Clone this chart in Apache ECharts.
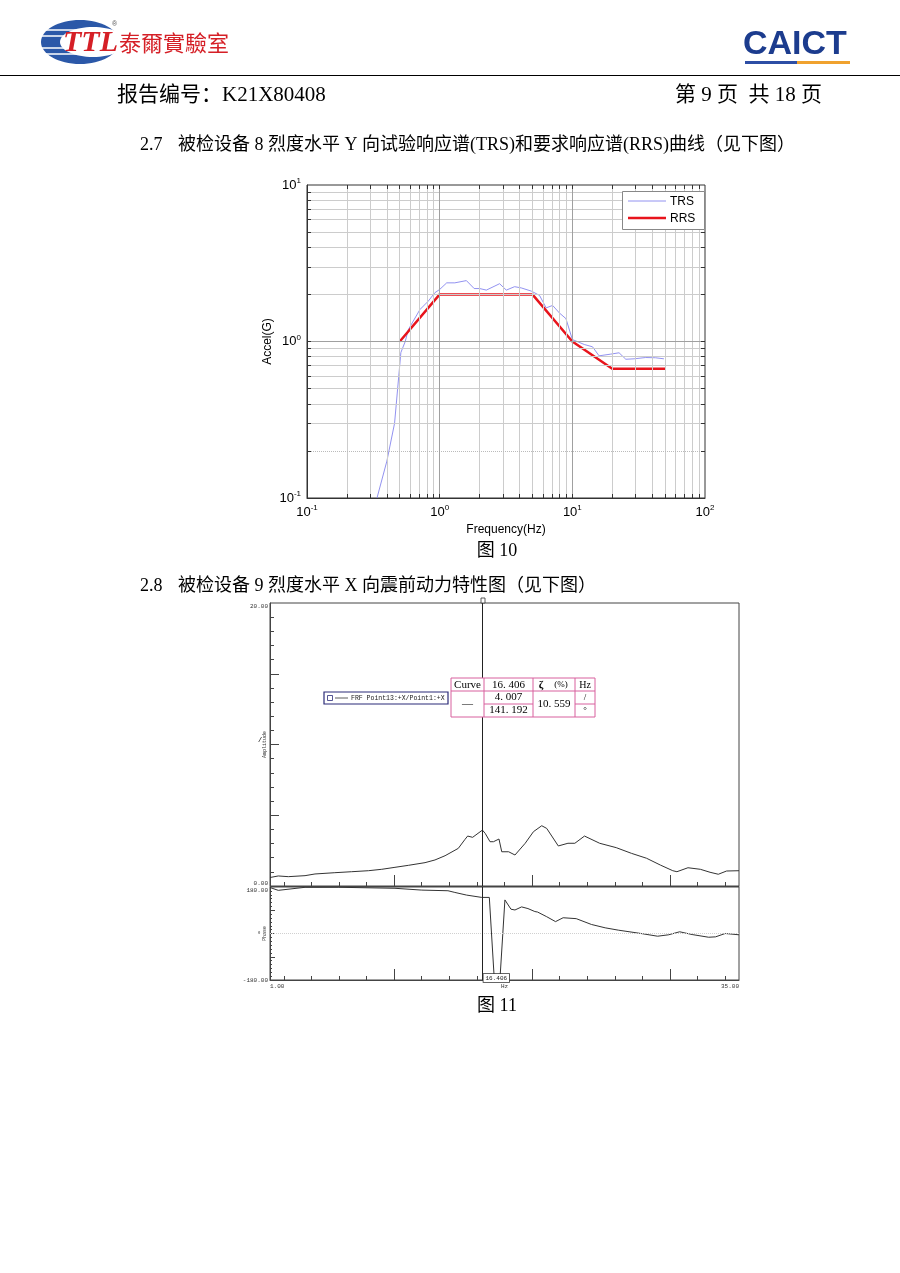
<!DOCTYPE html>
<html><head><meta charset="utf-8">
<script src="https://cdn.jsdelivr.net/npm/echarts@6/dist/echarts.min.js"></script>
<style>html,body{margin:0;padding:0;background:#fff}#c{width:900px;height:1273px}</style>
</head><body><div id="c"></div>
<script>
// ---------- Figure 10 data (TRS / RRS) ----------
const trsFreq  = [0.337, 0.40, 0.457, 0.51, 0.55, 0.58, 0.71, 0.82, 0.92, 1.0, 1.13, 1.30, 1.59, 1.82, 2.0, 2.25, 2.83, 3.18, 3.67, 4.12, 4.9, 5.66, 6.35, 7.1, 8.0, 8.95, 10.0, 10.3, 12.3, 14.2, 15.9, 19.4, 22.5, 25.3, 29.2, 35.7, 42.4, 49];
const trsAccel = [0.10, 0.172, 0.30, 0.85, 1.0, 1.19, 1.6, 1.81, 2.05, 2.15, 2.37, 2.37, 2.45, 2.18, 2.18, 2.13, 2.34, 2.13, 2.24, 2.2, 2.1, 1.97, 1.64, 1.7, 1.52, 1.40, 1.03, 1.03, 0.957, 0.925, 0.81, 0.83, 0.847, 0.77, 0.775, 0.79, 0.787, 0.775];
const rrsFreq  = [0.5, 1, 5, 10, 20, 50];
const rrsAccel = [1.0, 2.0, 2.0, 1.0, 0.67, 0.67];
const legendNames = ['TRS', 'RRS'];

// ---------- Figure 11 data (FRF amplitude / phase) ----------
const ampFreq = [1.0, 1.6, 2.33, 3.54, 4.26, 5.7, 6.92, 8.13, 9.1, 10.06, 11.03, 12.24, 12.96, 13.69, 14.65, 15.14, 15.33, 15.69, 16.4, 16.6, 16.95, 17.2, 17.6, 17.8, 18.3, 18.76, 19.5, 20.1, 20.7, 21.06, 21.9, 22.6, 23.1, 23.8, 24.9, 26.1, 27.2, 28.3, 29.3, 30.2, 30.5, 31.3, 32.2, 32.9, 33.5, 34.1, 35.0];
const ampVal  = [0.60, 0.71, 0.66, 0.73, 0.85, 0.94, 1.01, 1.08, 1.18, 1.32, 1.46, 1.65, 1.84, 2.14, 2.66, 3.3, 3.53, 3.44, 3.95, 3.72, 3.13, 3.13, 3.32, 2.42, 2.42, 2.19, 3.02, 3.84, 4.26, 4.07, 2.83, 3.02, 3.02, 3.53, 3.02, 2.71, 2.31, 1.96, 1.48, 1.08, 1.01, 1.29, 1.18, 0.97, 0.83, 1.06, 1.08];
const phFreq  = [1.0, 1.6, 3.54, 5.95, 10.06, 12.0, 13.9, 14.4, 15.25, 16.35, 16.9, 17.26, 17.67, 18.03, 18.47, 18.76, 19.24, 19.7, 20.2, 20.4, 21.06, 21.7, 22.25, 23.2, 24.3, 25.3, 26.25, 27.9, 29.1, 29.9, 30.7, 31.6, 32.8, 33.3, 34.0, 35.0];
const phVal   = [178, 167, 178.8, 179, 175, 168, 165.5, 159, 148.7, 139.7, 139.7, -177, -177, 130, 94, 91, 103, 96.5, 85, 83, 65, 46, 61, 57.5, 35, 22, 13, 0, -10.5, -5, 6.7, -4, -14.5, -13, 0, -5];
const cursorFreq = 16.406;
const cursorAmp = '4.007';
const cursorPhase = '141.192';
const cursorDamp = '10.559';
const frfLegend = 'FRF Point13:+X/Point1:+X';

// tick label / tick value lists
const frfXRange = [1, 35];
const frfXMinorTicks = [2,4,6,8,10,12,14,16,18,20,22,24,26,28,30,32,34];
const frfXMajorTicks = [10, 20, 30];
const ampRange = [0, 20];
const ampMinorTicks = [1,2,3,4,5,6,7,8,9,10,11,12,13,14,15,16,17,18,19];
const ampMajorTicks = [5, 10, 15];
const phRange = [-180, 180];
const phMinorTicks = [-165,-150,-135,-120,-105,-90,-75,-60,-45,-30,-15,0,15,30,45,60,75,90,105,120,135,150,165];
const phMajorTicks = [-90, 0, 90];

const SERIF = "'Liberation Serif','Noto Sans CJK SC',serif";
const SANS = "'Liberation Sans',Arial,sans-serif";
const MONO = "'Liberation Mono','DejaVu Sans Mono',monospace";

// layout
const g0 = {left: 307, top: 185, width: 398, height: 313};
const g1 = {left: 270, top: 603, width: 469, height: 283};
const g2 = {left: 270, top: 887, width: 469, height: 93};

// log grid line values
const minorX = [], minorY = [];
[0.1, 1, 10].forEach(d => { for (let k = 2; k <= 9; k++) minorX.push(+(d * k).toFixed(3)); });
[0.1, 1].forEach(d => { for (let k = 2; k <= 9; k++) minorY.push(+(d * k).toFixed(3)); });
const pxDecX = g0.width / 3, pxDecY = g0.height / 2;
const tkX = Math.pow(10, 4 / pxDecX), tkY = Math.pow(10, 4 / pxDecY);
const tickMarks = [];
minorX.concat([1, 10]).forEach(v => {
  tickMarks.push([{coord: [v, 10]}, {coord: [v, 10 / tkY]}]);
  tickMarks.push([{coord: [v, 0.1]}, {coord: [v, 0.1 * tkY]}]);
});
minorY.concat([1]).forEach(v => {
  tickMarks.push([{coord: [0.1, v]}, {coord: [0.1 * tkX, v]}]);
  tickMarks.push([{coord: [100, v]}, {coord: [100 / tkX, v]}]);
});

function T(text, x, y, font, extra) {
  return {type: 'text', x: x, y: y, silent: true, z: 100,
    style: Object.assign({text: text, font: font, fill: '#000', textAlign: 'left', align: 'left',
      textVerticalAlign: 'middle', verticalAlign: 'middle'}, extra || {})};
}
function L(x1, y1, x2, y2, stroke, w) {
  return {type: 'line', silent: true, z: 100, shape: {x1, y1, x2, y2}, style: {stroke: stroke, lineWidth: w || 1}};
}
const CENTER = {textAlign: 'center', align: 'center'};
const RIGHT = {textAlign: 'right', align: 'right'};
const pk = '#d8609e';
const trsColor = '#8686ee', rrsColor = '#e8141c';

const graphics = [
  // TTL logo
  {type: 'ellipse', silent: true, z: 100, shape: {cx: 80, cy: 42, rx: 39, ry: 22}, style: {fill: '#2b58a8'}},
  L(40, 30, 96, 30, '#fff', 1.5), L(40, 36, 96, 36, '#fff', 1.5), L(40, 48, 96, 48, '#fff', 1.5), L(40, 54, 96, 54, '#fff', 1.5),
  {type: 'ellipse', silent: true, z: 100, shape: {cx: 93, cy: 42, rx: 33, ry: 15}, style: {fill: '#fff'}},
  T('TTL', 63, 43, "italic bold 30px 'Liberation Serif'", {fill: '#d51f26'}),
  T('®', 112, 24, "7px " + SANS, {fill: '#555'}),
  T('泰爾實驗室', 119, 43, "22px 'Noto Sans CJK TC'", {fill: '#d51f26'}),
  // CAICT logo
  T('CAICT', 743, 45, "bold 34px " + SANS, {fill: '#1c3c8e'}),
  {type: 'rect', silent: true, z: 100, shape: {x: 745, y: 61, width: 52, height: 3}, style: {fill: '#2d4ea5'}},
  {type: 'rect', silent: true, z: 100, shape: {x: 797, y: 61, width: 53, height: 3}, style: {fill: '#f0a22e'}},
  // rule
  L(0, 75.5, 900, 75.5, '#000', 1),
  // header texts
  T('报告编号：K21X80408', 117, 95, "21px " + SERIF),
  T('第 9 页  共 18 页', 822, 95, "21px " + SERIF, RIGHT),
  T('2.7', 140, 145, "18px " + SERIF),
  T('被检设备 8 烈度水平 Y 向试验响应谱(TRS)和要求响应谱(RRS)曲线（见下图）', 178, 145, "18px " + SERIF),
  T('图 10', 497, 551, "18px " + SERIF, CENTER),
  T('2.8', 140, 586, "18px " + SERIF),
  T('被检设备 9 烈度水平 X 向震前动力特性图（见下图）', 178, 586, "18px " + SERIF),
  T('图 11', 497, 1006, "18px " + SERIF, CENTER),
  // Figure 10 legend
  {type: 'rect', silent: true, z: 100, shape: {x: 622.5, y: 191.5, width: 82, height: 38}, style: {fill: '#fff', stroke: '#888', lineWidth: 1}},
  L(628, 201, 666, 201, trsColor, 0.9),
  T(legendNames[0], 670, 201.5, "12px " + SANS),
  L(628, 218, 666, 218, rrsColor, 2.5),
  T(legendNames[1], 670, 218.5, "12px " + SANS),
  // FRF legend box
  {type: 'rect', silent: true, z: 100, shape: {x: 324, y: 692, width: 124, height: 12}, style: {fill: '#fff', stroke: '#2b2b78', lineWidth: 1.2}},
  {type: 'rect', silent: true, z: 101, shape: {x: 327.5, y: 695.5, width: 5, height: 5}, style: {fill: 'none', stroke: '#2b2b78', lineWidth: 0.8}},
  L(335, 698, 348, 698, '#333', 0.8),
  T(frfLegend, 351, 698.5, "6.5px " + MONO, {fill: '#222'}),
  // cursor table
  {type: 'rect', silent: true, z: 100, shape: {x: 451, y: 678, width: 144, height: 39}, style: {fill: '#fff', stroke: pk, lineWidth: 1}},
  L(484, 678, 484, 717, pk), L(533, 678, 533, 717, pk), L(575, 678, 575, 717, pk),
  L(451, 691, 595, 691, pk), L(484, 704, 533, 704, pk), L(575, 704, 595, 704, pk),
  T('Curve', 467.5, 685, "11px " + SERIF, CENTER),
  T(cursorFreq.toFixed(3).replace('.', '. '), 508.5, 685, "11px " + SERIF, CENTER),
  T('ζ', 541, 685, "bold 11px " + SERIF, CENTER),
  T('(%)', 561, 685, "9px " + SERIF, CENTER),
  T('Hz', 585, 685, "10px " + SERIF, CENTER),
  T('—', 467.5, 704, "11px " + SERIF, CENTER),
  T(cursorAmp.replace('.', '. '), 508.5, 697.5, "11px " + SERIF, CENTER),
  T(cursorPhase.replace('.', '. '), 508.5, 710.5, "11px " + SERIF, CENTER),
  T(cursorDamp.replace('.', '. '), 554, 704, "11px " + SERIF, CENTER),
  T('/', 585, 697.5, "9px " + SERIF, CENTER),
  T('°', 585, 711, "9px " + SERIF, CENTER),
  // unit marks
  T('/', 260, 740, "7px " + MONO, CENTER),
  T('°', 259, 935, "7px " + MONO, CENTER)
];

const tinyLabel = {fontSize: 6, fontFamily: MONO, color: '#333'};
function tickAxis(extra) {
  const base = {
    type: 'value', splitLine: {show: false}, minorTick: {show: false}, minorSplitLine: {show: false},
    nameMoveOverlap: false
  };
  const o = Object.assign(base, extra);
  o.axisLine = Object.assign({show: true, onZero: false, lineStyle: {color: '#444', width: 1}}, extra.axisLine || {});
  o.axisLine.onZero = false;
  return o;
}

const decadeLabel = v => '{b|10}{s|' + Math.round(Math.log10(v)) + '}';
const decadeRich = {
  b: {fontSize: 13, fontFamily: SANS, color: '#000'},
  s: {fontSize: 8, fontFamily: SANS, color: '#000', padding: [0, 0, 8, 0]}
};
const helperData = rrsFreq.map((f, i) => [f, rrsAccel[i]]);

const option = {
  animation: false,
  backgroundColor: '#fff',
  graphic: {elements: graphics},
  grid: [
    Object.assign({show: true, borderColor: '#333', borderWidth: 1, containLabel: false, outerBoundsMode: 'none'}, g0),
    Object.assign({show: true, borderColor: '#444', borderWidth: 1, containLabel: false, outerBoundsMode: 'none'}, g1),
    Object.assign({show: true, borderColor: '#444', borderWidth: 1, containLabel: false, outerBoundsMode: 'none'}, g2)
  ],
  xAxis: [
    {gridIndex: 0, type: 'log', logBase: 10, min: 0.1, max: 100,
     name: 'Frequency(Hz)', nameLocation: 'middle', nameGap: 26,
     nameTextStyle: {fontFamily: SANS, fontSize: 12, color: '#000'},
     axisLine: {show: true, onZero: false, lineStyle: {color: '#333'}}, axisTick: {show: false},
     splitLine: {show: false}, minorTick: {show: false}, minorSplitLine: {show: false},
     axisLabel: {formatter: decadeLabel, margin: 6, rich: decadeRich}},
    tickAxis({gridIndex: 1, min: frfXRange[0], max: frfXRange[1], position: 'bottom',
      axisTick: {show: true, inside: true, length: 4, customValues: frfXMinorTicks, lineStyle: {color: '#444'}},
      axisLabel: {show: false}}),
    tickAxis({gridIndex: 1, min: frfXRange[0], max: frfXRange[1], position: 'bottom',
      axisLine: {show: false},
      axisTick: {show: true, inside: true, length: 11, customValues: frfXMajorTicks, lineStyle: {color: '#444'}},
      axisLabel: {show: false}}),
    tickAxis({gridIndex: 2, min: frfXRange[0], max: frfXRange[1], position: 'bottom',
      name: 'Hz', nameLocation: 'middle', nameGap: 3, nameTextStyle: Object.assign({verticalAlign: 'top'}, tinyLabel),
      axisTick: {show: true, inside: true, length: 4, customValues: frfXMinorTicks, lineStyle: {color: '#444'}},
      axisLabel: Object.assign({customValues: frfXRange, formatter: v => v.toFixed(2), margin: 3,
        showMinLabel: true, showMaxLabel: true, alignMinLabel: 'left', alignMaxLabel: 'right'}, tinyLabel)}),
    tickAxis({gridIndex: 2, min: frfXRange[0], max: frfXRange[1], position: 'bottom',
      axisLine: {show: false},
      axisTick: {show: true, inside: true, length: 11, customValues: frfXMajorTicks, lineStyle: {color: '#444'}},
      axisLabel: {show: false}})
  ],
  yAxis: [
    {gridIndex: 0, type: 'log', logBase: 10, min: 0.1, max: 10,
     name: 'Accel(G)', nameLocation: 'middle', nameGap: 33, nameRotate: 90,
     nameTextStyle: {fontFamily: SANS, fontSize: 12, color: '#000'},
     axisLine: {show: true, onZero: false, lineStyle: {color: '#333'}}, axisTick: {show: false},
     splitLine: {show: false}, minorTick: {show: false}, minorSplitLine: {show: false},
     axisLabel: {formatter: decadeLabel, margin: 6, rich: decadeRich}},
    tickAxis({gridIndex: 1, min: ampRange[0], max: ampRange[1], position: 'left',
      name: 'Amplitude', nameLocation: 'middle', nameGap: 3, nameRotate: 90,
      nameTextStyle: Object.assign({}, tinyLabel, {fontSize: 5}),
      axisTick: {show: true, inside: true, length: 4, customValues: ampMinorTicks, lineStyle: {color: '#444'}},
      axisLabel: Object.assign({customValues: ampRange, formatter: v => v.toFixed(2), margin: 2,
        showMinLabel: true, showMaxLabel: true, verticalAlignMinLabel: 'bottom', verticalAlignMaxLabel: 'top'}, tinyLabel)}),
    tickAxis({gridIndex: 1, min: ampRange[0], max: ampRange[1], position: 'left',
      axisLine: {show: false},
      axisTick: {show: true, inside: true, length: 9, customValues: ampMajorTicks, lineStyle: {color: '#444'}},
      axisLabel: {show: false}}),
    tickAxis({gridIndex: 2, min: phRange[0], max: phRange[1], position: 'left',
      name: 'Phase', nameLocation: 'middle', nameGap: 3, nameRotate: 90,
      nameTextStyle: Object.assign({}, tinyLabel, {fontSize: 5}),
      axisTick: {show: true, inside: true, length: 2, customValues: phMinorTicks, lineStyle: {color: '#444'}},
      axisLabel: Object.assign({customValues: phRange, formatter: v => v.toFixed(2), margin: 2,
        showMinLabel: true, showMaxLabel: true, verticalAlignMinLabel: 'middle', verticalAlignMaxLabel: 'top'}, tinyLabel)}),
    tickAxis({gridIndex: 2, min: phRange[0], max: phRange[1], position: 'left',
      axisLine: {show: false},
      axisTick: {show: true, inside: true, length: 5, customValues: phMajorTicks, lineStyle: {color: '#444'}},
      axisLabel: {show: false}})
  ],
  series: [
    // minor grid lines (figure 10)
    {type: 'line', name: '_g1', xAxisIndex: 0, yAxisIndex: 0, z: 1, silent: true, symbol: 'none',
     data: helperData, lineStyle: {opacity: 0},
     markLine: {silent: true, symbol: ['none', 'none'], label: {show: false},
       lineStyle: {color: '#cccccc', width: 1, type: 'solid'},
       data: minorX.map(v => ({xAxis: v})).concat(minorY.map(v => ({yAxis: v, lineStyle: v === 0.2 ? {color: '#bbbbbb', type: 'dotted', width: 1} : undefined})))}},
    // major grid lines
    {type: 'line', name: '_g2', xAxisIndex: 0, yAxisIndex: 0, z: 1, silent: true, symbol: 'none',
     data: helperData, lineStyle: {opacity: 0},
     markLine: {silent: true, symbol: ['none', 'none'], label: {show: false},
       lineStyle: {color: '#a0a0a0', width: 1, type: 'solid'},
       data: [{xAxis: 1}, {xAxis: 10}, {yAxis: 1}]}},
    // frame tick marks
    {type: 'line', name: '_g3', xAxisIndex: 0, yAxisIndex: 0, z: 2, silent: true, symbol: 'none',
     data: helperData, lineStyle: {opacity: 0},
     markLine: {silent: true, symbol: ['none', 'none'], label: {show: false},
       lineStyle: {color: '#333', width: 1, type: 'solid'}, data: tickMarks}},
    {type: 'line', name: legendNames[0], xAxisIndex: 0, yAxisIndex: 0, z: 3, symbol: 'none',
     data: trsFreq.map((f, i) => [f, trsAccel[i]]),
     lineStyle: {color: trsColor, width: 0.9}, itemStyle: {color: trsColor}},
    {type: 'line', name: legendNames[1], xAxisIndex: 0, yAxisIndex: 0, z: 4, symbol: 'none',
     data: rrsFreq.map((f, i) => [f, rrsAccel[i]]),
     lineStyle: {color: rrsColor, width: 2.5}, itemStyle: {color: rrsColor}},
    // phase zero reference line (helper)
    {type: 'line', name: '_p0', xAxisIndex: 3, yAxisIndex: 3, z: 1, silent: true, symbol: 'none',
     data: phFreq.map((f, i) => [f, phVal[i]]), lineStyle: {opacity: 0},
     markLine: {silent: true, symbol: ['none', 'none'], label: {show: false},
       lineStyle: {color: '#d0d0d0', width: 1, type: 'dotted'}, data: [{yAxis: 0}]}},
    // FRF amplitude
    {type: 'line', name: 'FRF Amplitude', xAxisIndex: 1, yAxisIndex: 1, z: 3, symbol: 'none',
     data: ampFreq.map((f, i) => [f, ampVal[i]]),
     lineStyle: {color: '#333', width: 1}, itemStyle: {color: '#333'},
     markLine: {silent: true, symbol: ['none', 'none'], label: {show: false},
       lineStyle: {color: '#222', width: 1, type: 'solid'}, data: [{xAxis: cursorFreq}]}},
    // FRF phase
    {type: 'line', name: 'FRF Phase', xAxisIndex: 3, yAxisIndex: 3, z: 3, symbol: 'none',
     data: phFreq.map((f, i) => [f, phVal[i]]),
     lineStyle: {color: '#333', width: 1}, itemStyle: {color: '#333'},
     markLine: {silent: true, symbol: ['none', 'none'], label: {show: false},
       lineStyle: {color: '#222', width: 1, type: 'solid'}, data: [{xAxis: cursorFreq}]}}
  ]
};

const chart = echarts.init(document.getElementById('c'), null, {renderer: 'canvas'});
chart.setOption(option);

// cursor markers positioned through the library's own scales
const pBot = chart.convertToPixel({xAxisIndex: 3, yAxisIndex: 3}, [cursorFreq, phRange[0]]);
const pTop = chart.convertToPixel({xAxisIndex: 1, yAxisIndex: 1}, [cursorFreq, ampRange[1]]);
chart.setOption({graphic: {elements: graphics.concat([
  {type: 'text', silent: true, z: 110, x: Math.round(pBot[0]) + 0.5, y: pBot[1] + 2,
   style: {text: cursorFreq.toFixed(3), font: "6px " + MONO, fill: '#222', align: 'left', textAlign: 'left',
     verticalAlign: 'bottom', textVerticalAlign: 'bottom', backgroundColor: '#fff', borderColor: '#333', borderWidth: 0.8, padding: [1, 2]}},
  {type: 'rect', silent: true, z: 110, shape: {x: Math.round(pTop[0]) - 2, y: pTop[1] - 5, width: 4, height: 5}, style: {fill: '#fff', stroke: '#333', lineWidth: 0.8}}
])}});
</script>
</body></html>
